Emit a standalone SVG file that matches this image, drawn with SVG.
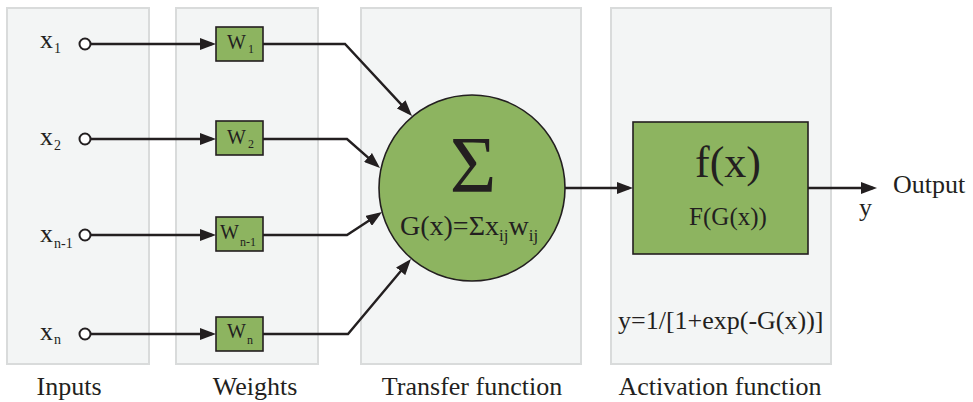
<svg xmlns="http://www.w3.org/2000/svg" width="973" height="402" viewBox="0 0 973 402">
<style>
text{font-family:"Liberation Serif","Times New Roman",serif;fill:#231f20}
.panel{fill:#f3f5f5;stroke:#d9dbdb;stroke-width:2}
.g{fill:#8db460;stroke:#231f20;stroke-width:1.6}
.in{fill:#ffffff;stroke:#231f20;stroke-width:2}
.c{fill:none;stroke:#231f20;stroke-width:2.4;stroke-linejoin:miter}
.lbl{font-size:26px}
.xl{font-size:26px}
.sub{font-size:14px}
.wl{font-size:20px}
.ws{font-size:12px}
</style>
<defs>
<marker id="ah" viewBox="0 0 16 12" refX="12" refY="6" markerWidth="16" markerHeight="12" markerUnits="userSpaceOnUse" orient="auto">
<path d="M0,0 L16,6 L0,12 z" fill="#231f20"/>
</marker>
</defs>
<g id="panels">
<rect class="panel" x="7" y="8" width="142" height="356"/>
<rect class="panel" x="176" y="8" width="142" height="356"/>
<rect class="panel" x="361" y="8" width="220" height="356"/>
<rect class="panel" x="611" y="8" width="220" height="356"/>
</g>
<g id="connectors">
<path class="c" d="M90,44 H212" marker-end="url(#ah)"/>
<path class="c" d="M90,139 H212" marker-end="url(#ah)"/>
<path class="c" d="M90,235 H212" marker-end="url(#ah)"/>
<path class="c" d="M90,334 H212" marker-end="url(#ah)"/>
<path class="c" d="M263,44 H345 L409.3,113.1" marker-end="url(#ah)"/>
<path class="c" d="M263,139 H347 L377,165.4" marker-end="url(#ah)"/>
<path class="c" d="M263,235 H347 L378.7,214.2" marker-end="url(#ah)"/>
<path class="c" d="M263,334 H348 L408.4,262.1" marker-end="url(#ah)"/>
<path class="c" d="M565,188 H629" marker-end="url(#ah)"/>
<path class="c" d="M808,188 H873" marker-end="url(#ah)"/>
</g>
<g id="input-x1"><circle class="in" cx="85" cy="44" r="5.5"/><text x="40" y="48" class="xl">x</text><text x="54" y="53" class="sub">1</text></g>
<g id="input-x2"><circle class="in" cx="85" cy="139" r="5.5"/><text x="40" y="145" class="xl">x</text><text x="54" y="150" class="sub">2</text></g>
<g id="input-xn-1"><circle class="in" cx="85" cy="235" r="5.5"/><text x="40" y="242" class="xl">x</text><text x="54" y="248" class="sub">n-1</text></g>
<g id="input-xn"><circle class="in" cx="85" cy="334" r="5.5"/><text x="40" y="340" class="xl">x</text><text x="54" y="344" class="sub">n</text></g>
<g id="weight-w1"><rect class="g" x="216" y="27" width="47" height="34"/><text x="227" y="49" class="wl">W</text><text x="248" y="53" class="ws">1</text></g>
<g id="weight-w2"><rect class="g" x="216" y="121" width="47" height="34"/><text x="227" y="144" class="wl">W</text><text x="248" y="148" class="ws">2</text></g>
<g id="weight-wn-1"><rect class="g" x="216" y="217" width="47" height="34"/><text x="220" y="239" class="wl">W</text><text x="240" y="246" class="ws">n-1</text></g>
<g id="weight-wn"><rect class="g" x="216" y="317" width="47" height="34"/><text x="227" y="338" class="wl">W</text><text x="247" y="344" class="ws">n</text></g>
<g id="transfer">
<circle class="g" cx="472" cy="188" r="93"/>
<text x="473" y="192" font-size="80" text-anchor="middle">Σ</text>
<text x="400" y="235" font-size="28">G(x)=Σx<tspan font-size="17" dy="6">ij</tspan><tspan dy="-6">w</tspan><tspan font-size="17" dy="6">ij</tspan></text>
</g>
<g id="activation">
<rect class="g" x="633" y="122" width="175" height="132"/>
<text x="728" y="177" font-size="44" text-anchor="middle">f(x)</text>
<text x="728" y="225" font-size="25" text-anchor="middle">F(G(x))</text>
</g>
<g id="output">
<text x="893" y="193" class="lbl">Output</text>
<text x="859" y="216" class="lbl">y</text>
</g>
<text x="618" y="329" class="lbl">y=1/[1+exp(-G(x))]</text>
<g id="captions">
<text x="69" y="395" class="lbl" text-anchor="middle">Inputs</text>
<text x="255" y="395" class="lbl" text-anchor="middle">Weights</text>
<text x="472" y="395" class="lbl" text-anchor="middle">Transfer function</text>
<text x="720" y="395" class="lbl" text-anchor="middle">Activation function</text>
</g>
</svg>
